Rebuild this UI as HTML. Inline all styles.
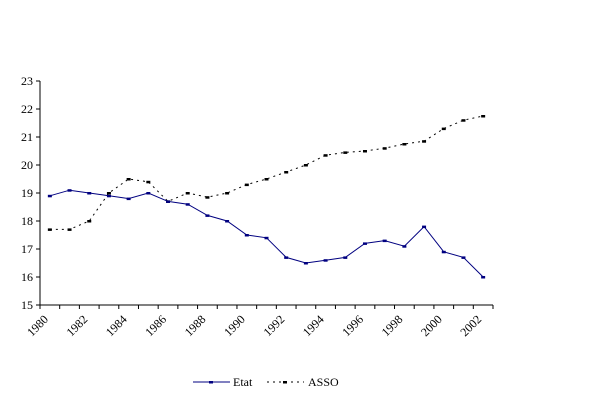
<!DOCTYPE html>
<html><head><meta charset="utf-8"><style>
body{margin:0;background:#fff;width:601px;height:407px;overflow:hidden}
text{font-family:"Liberation Serif",serif;font-size:12px;fill:#000}
</style></head><body>
<svg id="c" width="601" height="407"></svg>
<script>
const years=["1980","1981","1982","1983","1984","1985","1986","1987","1988","1989","1990","1991","1992","1993","1994","1995","1996","1997","1998","1999","2000","2001","2002"];
const etat=[18.9,19.1,19.0,18.9,18.8,19.0,18.7,18.6,18.2,18.0,17.5,17.4,16.7,16.5,16.6,16.7,17.2,17.3,17.1,17.8,16.9,16.7,16.0];
const asso=[17.7,17.7,18.0,19.0,19.5,19.4,18.7,19.0,18.85,19.0,19.3,19.5,19.75,20.0,20.35,20.45,20.5,20.6,20.75,20.85,21.3,21.6,21.75];
const yTicks=[15,16,17,18,19,20,21,22,23];
const NS="http://www.w3.org/2000/svg",svg=document.getElementById('c');
const X0=40,X1=493,Y0=305,Y1=81,step=(X1-X0)/years.length;
const x=i=>X0+step*(i+0.5), y=v=>Y0-(v-15)/(23-15)*(Y0-Y1);
function el(t,a,p){const e=document.createElementNS(NS,t);for(const k in a)e.setAttribute(k,a[k]);(p||svg).appendChild(e);return e;}
let ax=el('line',{x1:X0,y1:Y1,x2:X0,y2:Y0,stroke:'#000'});


let bx=el('line',{x1:X0,y1:Y0,x2:X1,y2:Y0,stroke:'#000'});


yTicks.forEach(v=>{el('line',{x1:X0-4,y1:y(v),x2:X0,y2:y(v),stroke:'#000'});
 const t=el('text',{x:X0-7,y:y(v)+4,'text-anchor':'end'});t.textContent=v;
 
 });
for(let i=0;i<=years.length;i++)el('line',{x1:X0+step*i,y1:Y0,x2:X0+step*i,y2:Y0+4,stroke:'#000'});
years.forEach((yr,i)=>{if(i%2)return;const cx=x(i)-1,cy=Y0+15;
 const t=el('text',{x:cx,y:cy,'text-anchor':'end',transform:`rotate(-45 ${cx} ${cy})`});t.textContent=yr;
 
 });
function series(d,col,dash,name){
 const p=el('polyline',{points:d.map((v,i)=>x(i)+','+y(v)).join(' '),fill:'none',stroke:col,'stroke-width':1,'stroke-dasharray':dash});
 
 
 d.forEach((v,i)=>{const r=el('rect',{x:x(i)-2,y:y(v)-1,width:4,height:2.5,fill:col});
  
  });}
series(asso,'#000','2 4','asso');
series(etat,'#000080','none','etat');
const lg=el('g',{});


el('line',{x1:193,y1:382,x2:230,y2:382,stroke:'#000080'},lg);
el('rect',{x:209,y:381,width:4,height:2.5,fill:'#000080'},lg);
let t1=el('text',{x:233,y:386},lg);t1.textContent='Etat';
el('line',{x1:267,y1:382,x2:304,y2:382,stroke:'#000','stroke-dasharray':'2 4'},lg);
el('rect',{x:283,y:381,width:4,height:2.5,fill:'#000'},lg);
let t2=el('text',{x:308,y:386},lg);t2.textContent='ASSO';
</script></body></html>
